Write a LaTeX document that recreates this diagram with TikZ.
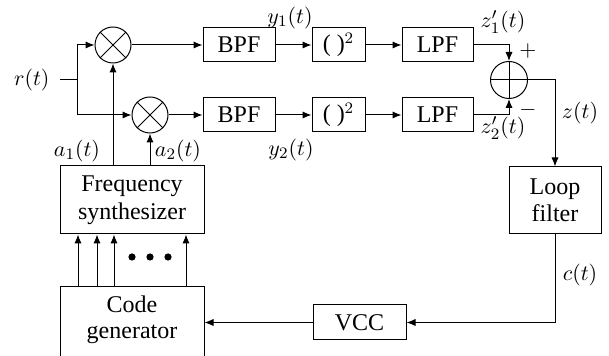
\documentclass[tikz,border=0pt]{standalone}
\usepackage{fontspec}
\setmainfont{Liberation Serif}
\usetikzlibrary{arrows.meta,calc}
\begin{document}
\begin{tikzpicture}[x=0.5pt,y=-0.5pt,
  line width=0.5pt,
  arr/.style={-{Latex[length=4.5pt,width=3.6pt]}},
  blk/.style={draw,rectangle,inner sep=0pt,align=center,font=\fontsize{12}{13.5}\selectfont},
  mix/.style={draw,circle,inner sep=0pt,minimum size=18pt},
  lbl/.style={font=\fontsize{11}{13}\selectfont,inner sep=0pt}]
\useasboundingbox (0,0) rectangle (609,356);
% mixers
\node[mix] (m1) at (113,45) {};
\node[mix] (m2) at (150,115) {};
\draw (m1.north east) -- (m1.south west) (m1.north west) -- (m1.south east);
\draw (m2.north east) -- (m2.south west) (m2.north west) -- (m2.south east);
% blocks
\node[blk,minimum width=36pt,minimum height=17pt] (bpf1) at (239,45) {BPF};
\node[blk,minimum width=36pt,minimum height=17pt] (bpf2) at (239,115) {BPF};
\node[blk,minimum width=26.5pt,minimum height=17pt] (sq1) at (338.5,45) {( )$^2$};
\node[blk,minimum width=26.5pt,minimum height=17pt] (sq2) at (338.5,115) {( )$^2$};
\node[blk,minimum width=35.5pt,minimum height=17pt] (lpf1) at (437.5,45) {LPF};
\node[blk,minimum width=35.5pt,minimum height=17pt] (lpf2) at (437.5,115) {LPF};
\node[mix,minimum size=18.5pt] (sum) at (509,80) {};
\draw (sum.north) -- (sum.south) (sum.west) -- (sum.east);
\node[blk,minimum width=46pt,minimum height=33.5pt,font=\fontsize{12}{13.5}\selectfont] (loop) at (555,200.5) {Loop\\filter};
\node[blk,minimum width=46.5pt,minimum height=17.5pt] (vcc) at (359.5,322.5) {VCC};
\node[blk,minimum width=72pt,minimum height=34pt,font=\fontsize{12}{14}\selectfont] (fs) at (132,200) {Frequency\\synthesizer};
% code generator: box runs past the lower edge of the picture
\node[draw,rectangle,inner sep=0pt,minimum width=72pt,minimum height=50pt] (cg) at (132,337) {};
\node[align=center,inner sep=0pt,font=\fontsize{12}{13}\selectfont] (cgt) at (132,320) {Code\\generator};
% input
\node[lbl,anchor=east] (r) at (50,80) {$r(t)$};
\coordinate (br) at (77,80);
\coordinate (bt) at (77,45);
\coordinate (bb) at (77,115);
\draw (r.east) ++(10,0) -- (br);
\draw (bt) -- (bb);
\draw[arr] (bt) -- (m1.west);
\draw[arr] (bb) -- (m2.west);
% signal chain
\draw[arr] (m1.east) -- (bpf1.west);
\draw[arr] (m2.east) -- (bpf2.west);
\draw[arr] (bpf1.east) -- (sq1.west);
\draw[arr] (bpf2.east) -- (sq2.west);
\draw[arr] (sq1.east) -- (lpf1.west);
\draw[arr] (sq2.east) -- (lpf2.west);
\draw[arr] (lpf1.east) -| (sum.north);
\draw[arr] (lpf2.east) -| (sum.south);
\draw[arr] (sum.east) -| (loop.north);
\draw[arr] (loop.south) |- (vcc.east);
\draw[arr] (vcc.west) -- (vcc.west -| cg.east);
% synthesizer outputs
\draw[arr] (m1 |- fs.north) -- (m1.south);
\draw[arr] (m2 |- fs.north) -- (m2.south);
% code lines
\foreach \x in {78,97,114,186} {
  \coordinate (c\x) at (\x,0);
  \draw[arr] (cg.north -| c\x) -- (fs.south -| c\x);
}
\foreach \x in {132,150,168} \fill (\x,257) circle (1.8pt);
% labels
\node[lbl] (la1) at (77,151) {$a_1(t)$};
\node[lbl] (la2) at (178,151) {$a_2(t)$};
\node[lbl] (ly1) at (290,18) {$y_1(t)$};
\node[lbl] (ly2) at (291,150) {$y_2(t)$};
\node[lbl] (lz1) at (503,22) {$z'_1(t)$};
\node[lbl] (lz2) at (503,128) {$z'_2(t)$};
\node[lbl] (lp) at (528,51) {$+$};
\node[lbl] (lm) at (528,110) {$-$};
\node[lbl] (lz) at (580,113) {$z(t)$};
\node[lbl] (lc) at (580,275) {$c(t)$};
\end{tikzpicture}
\end{document}
